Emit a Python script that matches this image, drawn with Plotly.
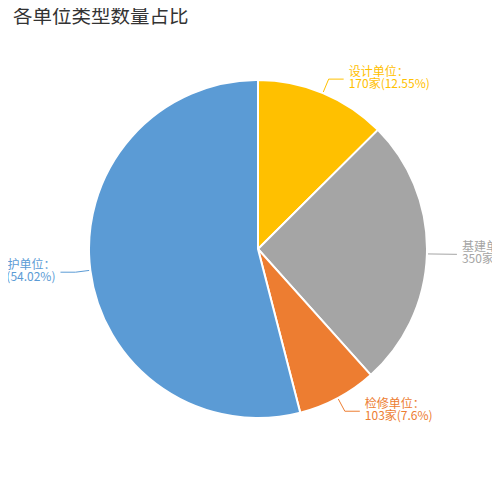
"""各单位类型数量占比 pie chart with outside leader-line labels."""

import math

import plotly.graph_objects as go

TITLE = "各单位类型数量占比"
UNIT_TYPES = ["设计单位", "基建单位", "检修单位", "维护单位"]
UNIT_COUNTS = [170, 350, 103, 732]
UNIT_COLORS = ["#FFC000", "#A5A5A5", "#ED7D31", "#5B9BD5"]

W = H = 500
# page body has an 8px margin, so figure px = page px - 8
CX, CY, R = 250, 241, 169  # pie centre / radius in px
FONT = "Noto Sans CJK SC, Microsoft YaHei, sans-serif"

total = sum(UNIT_COUNTS)

fig = go.Figure()

fig.add_trace(
    go.Pie(
        labels=UNIT_TYPES,
        values=UNIT_COUNTS,
        sort=False,
        direction="clockwise",
        rotation=0,
        marker={"colors": UNIT_COLORS, "line": {"color": "white", "width": 2}},
        textinfo="none",
        hoverinfo="label+value+percent",
        showlegend=False,
        domain={"x": [(CX - R) / W, (CX + R) / W], "y": [1 - (CY + R) / H, 1 - (CY - R) / H]},
    )
)

# leader lines + two-line labels, positioned from each slice's mid angle
cum = 0
for name, cnt, col in zip(UNIT_TYPES, UNIT_COUNTS, UNIT_COLORS):
    mid = (cum + cnt / 2) / total * 2 * math.pi
    cum += cnt
    dx, dy = math.sin(mid), -math.cos(mid)
    side = 1 if dx >= 0 else -1
    x0, y0 = CX + (R + 1) * dx, CY + (R + 1) * dy
    x1, y1 = CX + (R + 15) * dx, CY + (R + 15) * dy
    x2 = x1 + 15 * side
    fig.add_trace(
        go.Scatter(
            x=[x0, x1, x2], y=[y0, y1, y1], mode="lines",
            line={"color": col, "width": 1}, hoverinfo="skip", showlegend=False,
        )
    )
    pct = f"{round(cnt / total * 100, 2):g}"
    fig.add_trace(
        go.Scatter(
            x=[x2 + 5 * side, x2 + 5 * side],
            y=[y1 - 6.5, y1 + 6],
            mode="text",
            text=[f"{name}：", f"{cnt}家({pct}%)"],
            textposition="middle right" if side > 0 else "middle left",
            textfont={"family": FONT, "size": 12, "color": col},
            hoverinfo="skip",
            showlegend=False,
        )
    )

axis = {"visible": False, "fixedrange": True}
fig.update_layout(
    width=W,
    height=H,
    margin={"l": 0, "r": 0, "t": 0, "b": 0},
    paper_bgcolor="white",
    plot_bgcolor="rgba(0,0,0,0)",
    xaxis={**axis, "range": [0, W], "domain": [0, 1]},
    yaxis={**axis, "range": [H, 0], "domain": [0, 1]},
    annotations=[
        {
            "text": TITLE, "xref": "paper", "yref": "paper",
            "x": 3 / W, "y": 1 - 6 / H, "xanchor": "left", "yanchor": "middle",
            "showarrow": False, "font": {"family": FONT, "size": 19.5, "color": "#333333"},
        }
    ],
)

fig.write_html("out.html")
